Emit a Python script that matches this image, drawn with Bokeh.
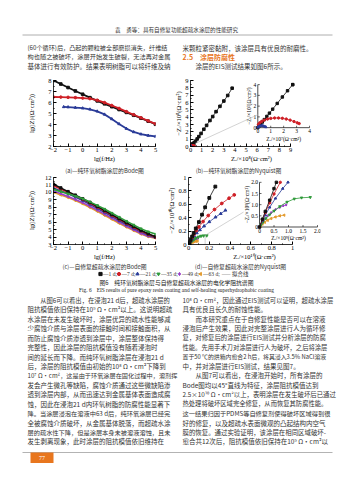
import math
from bokeh.plotting import figure
from bokeh.layouts import column, row
from bokeh.models import Range1d, SingleIntervalTicker, FixedTicker
from bokeh.core.properties import value
from bokeh.embed import file_html
from bokeh.resources import INLINE

# ---------------- data ----------------
day_labels = ["1 d", "7 d", "21 d", "35 d", "49 d", "63 d"]

lgf = [-2.0, -1.5, -1.0, -0.5, 0.0, 0.5, 1.0, 1.5, 2.0, 2.5, 3.0, 3.5, 4.0, 4.5, 5.0]

# (a) pure epoxy coating, Bode, lg|Z|
a_1d = [8.00, 7.68, 7.36, 7.05, 6.75, 6.44, 6.15, 5.88, 5.62, 5.36, 5.10, 4.84, 4.57, 4.30, 4.02]
a_7d = [6.50, 6.49, 6.47, 6.44, 6.40, 6.35, 6.21, 5.99, 5.73, 5.46, 5.17, 4.89, 4.61, 4.33, 4.06]
a_21d_f = [-1.3, -1.0, -0.5, 0.0, 0.5, 1.0, 1.5, 2.0, 2.5, 3.0, 3.5, 4.0, 4.5, 5.0]
a_21d = [5.60, 5.58, 5.54, 5.48, 5.38, 5.20, 4.92, 4.50, 4.05, 3.63, 3.32, 3.12, 3.00, 2.92]

# (b) pure epoxy coating, Nyquist, values in 10^7 ohm cm2
b_1d_x = [0.0, 0.1, 0.2, 0.35, 0.5, 0.7, 0.9, 1.15, 1.5, 1.9, 2.3, 2.7, 3.3, 4.5, 6.0, 7.5, 9.5, 12.0, 14.5, 17.5, 20.0, 23.0, 26.5, 30.0, 33.5, 37.5]
b_1d_y = [0.0, 0.15, 0.3, 0.52, 0.75, 1.05, 1.35, 1.72, 2.25, 2.85, 3.43, 4.0, 5.0, 7.2, 10.3, 13.5, 17.8, 23.5, 28.8, 35.5, 40.8, 47.5, 54.8, 62.0, 69.6, 79.5]
b_7d_x = [0.05, 0.15, 0.3, 0.5, 0.75, 1.0, 1.3, 1.6, 1.9, 2.2, 2.5, 2.8, 3.05, 3.2]
b_7d_y = [0.30, 0.45, 0.58, 0.70, 0.80, 0.86, 0.90, 0.90, 0.87, 0.80, 0.70, 0.57, 0.45, 0.38]
b_21d_x = [0.02, 0.08, 0.15, 0.25, 0.35, 0.45, 0.55, 0.62]
b_21d_y = [0.04, 0.10, 0.15, 0.18, 0.18, 0.15, 0.10, 0.06]

# (c) self-healing superhydrophobic coating, Bode, lg|Z|
c_1d = [11.10, 10.60, 10.10, 9.63, 9.15, 8.65, 8.12, 7.58, 7.03, 6.48, 5.93, 5.42, 4.92, 4.45, 4.05]
c_7d = [10.90, 10.45, 10.00, 9.55, 9.06, 8.56, 8.03, 7.48, 6.93, 6.38, 5.83, 5.32, 4.82, 4.36, 3.96]
c_21d = [10.60, 10.20, 9.80, 9.36, 8.90, 8.40, 7.87, 7.33, 6.78, 6.23, 5.68, 5.17, 4.70, 4.27, 3.90]
c_35d = [10.40, 10.10, 9.80, 9.50, 9.15, 8.72, 8.25, 7.76, 7.22, 6.68, 6.14, 5.63, 5.13, 4.72, 4.40]
c_49d = [10.20, 9.82, 9.45, 9.05, 8.62, 8.13, 7.62, 7.08, 6.54, 6.00, 5.47, 4.97, 4.50, 4.12, 3.95]
c_63d = [10.00, 9.65, 9.30, 8.90, 8.46, 7.97, 7.46, 6.92, 6.40, 5.86, 5.35, 4.86, 4.40, 4.05, 3.85]

# (d) self-healing superhydrophobic coating, Nyquist, values in 10^9 ohm cm2
d_1d_x = [0.0, 0.1, 0.2, 0.35, 0.5, 0.7, 1.0, 1.3, 1.6, 2.0, 2.58]
d_1d_y = [0.0, 0.35, 0.70, 1.20, 1.72, 2.40, 3.35, 4.45, 5.55, 6.95, 8.64]
d_7d_x = [0.0, 0.1, 0.2, 0.35, 0.5, 0.75, 1.0, 1.4, 1.9, 2.5, 3.2, 3.9, 4.4]
d_7d_y = [0.0, 0.33, 0.65, 1.08, 1.48, 2.08, 2.62, 3.42, 4.32, 5.22, 6.12, 6.90, 7.40]
d_21d_x = [0.0, 0.1, 0.2, 0.35, 0.55, 0.8, 1.1, 1.5, 2.0, 2.6, 3.1, 3.55]
d_21d_y = [0.0, 0.28, 0.53, 0.88, 1.28, 1.72, 2.18, 2.74, 3.38, 4.08, 4.60, 5.10]
d_35d_x = [0.0, 0.05, 0.12, 0.22, 0.35, 0.5, 0.7, 0.95, 1.2, 1.45, 1.75]
d_35d_y = [0.0, 0.10, 0.22, 0.38, 0.55, 0.72, 0.92, 1.12, 1.26, 1.31, 1.33]
d_49d_x = [0.0, 0.04, 0.1, 0.18, 0.28, 0.4, 0.55, 0.7, 0.82, 0.92]
d_49d_y = [0.0, 0.10, 0.22, 0.36, 0.50, 0.64, 0.78, 0.88, 0.95, 0.99]
d_63d_x = [0.0, 0.04, 0.1, 0.18, 0.28, 0.4, 0.55, 0.7, 0.85]
d_63d_y = [0.0, 0.06, 0.13, 0.21, 0.30, 0.38, 0.45, 0.50, 0.53]

# ---------------- text ----------------
header_text = "袁　勇等：具有自修复功能超疏水涂层的性能研究"
top_left = [
    "(60个循环)后，凸起的颗粒被全部磨损消失，纤维结",
    "构也随之被破坏，涂层开始发生破裂，无法再对金属",
    "基体进行有效防护。结果表明树脂可以将纤维及纳",
]
top_right = [
    "米颗粒紧密黏附，该涂层具有优良的耐磨性。",
    "2.5　涂层防腐性",
    "　　涂层的EIS测试结果如图6所示。",
]
cap_a = "(a)—纯环氧树脂涂层的Bode图"
cap_b = "(b)—纯环氧树脂涂层的Nyquist图"
cap_c = "(c)—自修复超疏水涂层的Bode图"
cap_d = "(d)—自修复超疏水涂层的Nyquist图"
fit_label = "—— 拟合线"
fig_cap_cn = "图6　纯环氧树脂涂层与自修复超疏水涂层的电化学阻抗谱图"
fig_cap_en = "Fig. 6　EIS results of pure epoxy resin coating and self-healing superhydrophobic coating"
body_left = [
    "　　从图6可以看出，在浸泡21 d后，超疏水涂层的",
    "阻抗模值依旧保持在10⁹ Ω·cm²以上。这说明超疏",
    "水涂层在未发生破坏时，涂层优异的疏水性能够减",
    "少腐蚀介质与涂层表面的接触时间和接触面积，从",
    "而防止腐蚀介质渗透到涂层中，涂层整体保持得",
    "完整性，因此涂层的阻抗模值没有随着浸泡时",
    "间的延长而下降。而纯环氧树脂涂层在浸泡21 d",
    "后，涂层的阻抗模值由初始的10⁸ Ω·cm²下降到",
    "10⁷ Ω·cm²，这是由于环氧涂层在固化过程中，溶剂挥",
    "发会产生微孔等缺陷，腐蚀介质通过这些微缺陷渗",
    "透到涂层内部，从而迅速达到金属基体表面造成腐",
    "蚀，因此在浸泡21 d内环氧树脂的防腐性能显著下",
    "降。当涂层浸泡在溶液中63 d后，纯环氧涂层已经完",
    "全被腐蚀介质破坏，从金属基体脱落，而超疏水涂",
    "层的疏水性下降，但是涂层本身未被溶液溶蚀，且未",
    "发生剥离现象，此时涂层的阻抗模值依旧维持在",
]
body_right = [
    "10⁸ Ω·cm²，因此通过EIS测试可以证明，超疏水涂层",
    "具有优良且长久的耐蚀性能。",
    "　　而本研究重点在于自修复性能是否可以在溶液",
    "浸泡后产生效果，因此对完整涂层进行人为循环修",
    "复，对修复后的涂层进行EIS测试并分析涂层的防腐",
    "性能。先用手术刀对涂层进行人为破坏，之后将涂层",
    "置于50 ℃的烘箱内愈合2 h后，将其浸入3.5% NaCl溶液",
    "中，并对涂层进行EIS测试，结果见图7。",
    "　　从图7可以看出，在浸泡开始时，所有涂层的",
    "Bode图均以45°直线为特征，涂层阻抗模值达到",
    "2.5×10¹⁰ Ω·cm²以上，表明涂层在发生破坏后已通过",
    "热处理将破坏区域完全修复，从而恢复其防腐性能。",
    "这一结果归因于PDMS等自修复剂使得破坏区域得到很",
    "好的修复，以及超疏水表面微观的凸起结构内空气",
    "膜的恢复。通过实验证明，该涂层在相同区域破坏-",
    "愈合共12次后，阻抗模值依旧保持在10⁹ Ω·cm²以",
]
page_number = "77"

# ---------------- styles ----------------
BLACK, RED, BLUE = "#111111", "#cf2027", "#2a3b98"
GREEN, PURPLE, ORANGE = "#2f9a3a", "#9a3cc8", "#e39a2d"
COLORS = [BLACK, RED, BLUE, GREEN, PURPLE, ORANGE]
MARKERS = ["square", "circle", "triangle", "inverted_triangle", "diamond", "triangle"]
ANGLES = [0, 0, 0, 0, 0, math.pi / 2]
SER = "Liberation Serif"
CJK = "Noto Sans CJK SC"
TXT = "#333333"
ACCENT = "#e8761e"


def text_fig(w, h):
    p = figure(width=w, height=h, x_range=Range1d(0, w), y_range=Range1d(h, 0),
               x_axis_type=None, y_axis_type=None, toolbar_location=None,
               output_backend="svg", min_border=0)
    p.outline_line_color = None
    return p


def put(p, x, y, s, size="6.5px", font=CJK, color=TXT, align="left", style="normal"):
    p.text(x=[x], y=[y], text=[s], text_font=value(font), text_font_size=size,
           text_color=color, text_align=align, text_baseline="middle",
           text_font_style=style)


def em_width(s):
    w = 0.0
    for ch in s:
        o = ord(ch)
        if ch == " ":
            w += 0.3
        elif ch in "·°⁰¹²³⁴⁵⁶⁷⁸⁹":
            w += 0.35
        elif o < 0x2000 or ch in "Ω×−":
            w += 0.56
        else:
            w += 1.0
    return w


def put_line(p, x, y, s, col_w, max_px=6.5):
    size = min(max_px, col_w / em_width(s))
    put(p, x, y, s, size="%.2fpx" % size)


def style_axes(p, ylab_standoff):
    p.grid.visible = False
    p.outline_line_color = None
    for ax in list(p.xaxis) + list(p.yaxis):
        ax.axis_line_width = 0.8
        ax.axis_line_color = "black"
        ax.major_tick_in = 3
        ax.major_tick_out = 0
        ax.minor_tick_in = 1
        ax.minor_tick_out = 0
        ax.major_label_text_font = SER
        ax.major_label_text_font_size = "6.5px"
        ax.major_label_text_color = "black"
        ax.axis_label_text_font = SER
        ax.axis_label_text_font_size = "6.5px"
        ax.axis_label_text_font_style = "normal"
        ax.axis_label_text_color = "black"
        ax.major_label_standoff = 1
    p.xaxis.axis_label_standoff = 0
    p.yaxis.axis_label_standoff = ylab_standoff
    p.yaxis.major_label_standoff = 2


def series(p, xs, ys, color, marker, angle, size=2.6, lw=1.3, **kw):
    p.line(xs, ys, line_color=color, line_width=lw, **kw)
    p.scatter(xs, ys, marker=marker, size=size, fill_color=color, line_color=color,
              angle=angle, **kw)


def clip_box(xs, ys, xmax, ymax):
    ox, oy = [], []
    for i in range(len(xs)):
        x, y = xs[i], ys[i]
        if x <= xmax and y <= ymax:
            ox.append(x)
            oy.append(y)
        else:
            if i > 0:
                x0, y0 = xs[i - 1], ys[i - 1]
                tx = (xmax - x0) / (x - x0) if x > xmax else 1.0
                ty = (ymax - y0) / (y - y0) if y > ymax else 1.0
                t = min(tx, ty)
                ox.append(x0 + t * (x - x0))
                oy.append(y0 + t * (y - y0))
            break
    return ox, oy


def add_inset(p, frame_w, frame_h, off_x, off_y, sx, sy, vmax, ticks, labels,
              xlab, ylab, ylab_off):
    xs0 = -off_x / sx
    ys0 = -off_y / sy
    p.extra_x_ranges = {"ix": Range1d(xs0, xs0 + frame_w / sx)}
    p.extra_y_ranges = {"iy": Range1d(ys0, ys0 + frame_h / sy)}
    kw = dict(x_range_name="ix", y_range_name="iy")
    n = len(ticks)
    p.segment(x0=[0, 0], y0=[0, 0], x1=[vmax, 0], y1=[0, vmax],
              line_color="black", line_width=0.7, **kw)
    p.segment(x0=ticks, y0=[0] * n, x1=ticks, y1=[2.0 / sy] * n,
              line_color="black", line_width=0.6, **kw)
    p.segment(x0=[0] * n, y0=ticks, x1=[2.0 / sx] * n, y1=ticks,
              line_color="black", line_width=0.6, **kw)
    p.text(x=ticks, y=[0] * n, text=labels, y_offset=1.5, text_align="center",
           text_baseline="top", text_font=value(SER), text_font_size="5.5px",
           text_color="black", **kw)
    p.text(x=[0] * n, y=ticks, text=labels, x_offset=-1.5, text_align="right",
           text_baseline="middle", text_font=value(SER), text_font_size="5.5px",
           text_color="black", **kw)
    p.text(x=[vmax / 2], y=[0], text=[xlab], y_offset=8, text_align="center",
           text_baseline="top", text_font=value(SER), text_font_size="5.5px",
           text_color="black", **kw)
    p.text(x=[0], y=[vmax / 2], text=[ylab], x_offset=-ylab_off, angle=math.pi / 2,
           text_align="center", text_baseline="bottom", text_font=value(SER),
           text_font_size="5.5px", text_color="black", **kw)

    def to_main(xi, yi, xr, yr):
        fx = (xi - xs0) / (frame_w / sx)
        fy = (yi - ys0) / (frame_h / sy)
        return xr[0] + fx * (xr[1] - xr[0]), yr[0] + fy * (yr[1] - yr[0])
    return kw, to_main


# ---------------- T1: header + text above figure ----------------
t1 = text_fig(353, 74)
put(t1, 176, 29, header_text, size="5.6px", color="#333333", align="center")
t1.segment(x0=[22], y0=[34.5], x1=[332], y1=[34.5], line_color="#9a9a9a", line_width=0.8)
for i, s in enumerate(top_left):
    put_line(t1, 27, 47 + 9.4 * i, s, 143)
for i, s in enumerate(top_right):
    if i == 1:
        put(t1, 182, 47 + 9.4 * i, s, size="7px", color=ACCENT, style="bold")
    else:
        put_line(t1, 182, 47 + 9.4 * i, s, 145)

# ---------------- Row A: panels (a) and (b) ----------------
pa = figure(width=165, height=90, x_range=Range1d(-2, 5), y_range=Range1d(2, 8),
            toolbar_location=None, output_backend="svg",
            min_border_left=53, min_border_right=10, min_border_top=6, min_border_bottom=15)
style_axes(pa, 10)
pa.xaxis.ticker = SingleIntervalTicker(interval=1, num_minor_ticks=2)
pa.yaxis.ticker = SingleIntervalTicker(interval=1, num_minor_ticks=2)
pa.xaxis.major_label_overrides = {-2: "−2", -1: "−1"}
pa.xaxis.axis_label = "lg(f/Hz)"
pa.yaxis.axis_label = "lg(|Z|/(Ω·cm²))"
series(pa, lgf, a_1d, BLACK, MARKERS[0], ANGLES[0], lw=1.8)
series(pa, lgf, a_7d, RED, MARKERS[1], ANGLES[1], lw=1.8)
series(pa, a_21d_f, a_21d, BLUE, MARKERS[2], ANGLES[2], lw=1.8)

B_FW, B_FH = 122, 69
b_xr = (0, B_FW / (100 / 9))
b_yr = (0, 9)
pb = figure(width=188, height=90, x_range=Range1d(*b_xr), y_range=Range1d(*b_yr),
            toolbar_location=None, output_backend="svg",
            min_border_left=25, min_border_right=41, min_border_top=5, min_border_bottom=16)
style_axes(pb, 0)
pb.xaxis.bounds = (0, 9)
pb.xaxis.ticker = SingleIntervalTicker(interval=1, num_minor_ticks=2)
pb.yaxis.ticker = SingleIntervalTicker(interval=1, num_minor_ticks=2)
pb.xaxis.axis_label = "Zᵣ/×10⁸(Ω·cm²)"
pb.yaxis.axis_label = "−Zᵢ/×10⁸(Ω·cm²)"
b_sets = [(b_1d_x, b_1d_y), (b_7d_x, b_7d_y), (b_21d_x, b_21d_y)]
for k, (xs, ys) in enumerate(b_sets):
    series(pb, [v / 10 for v in xs], [v / 10 for v in ys], COLORS[k], MARKERS[k], ANGLES[k],
           size=2.6, lw=0.8)
b_kw, b_map = add_inset(pb, B_FW, B_FH, 67.3, 19.7, 12.93, 11.25, 4,
                        [0, 1, 2, 3, 4], ["0", "1", "2", "3", "4"],
                        "Zᵣ/×10⁷(Ω·cm²)", "−Zᵢ/×10⁷(Ω·cm²)", 6)
for k, (xs, ys) in enumerate(b_sets):
    cx, cy = clip_box(xs, ys, 4, 4)
    series(pb, cx, cy, COLORS[k], MARKERS[k], ANGLES[k], size=2.4, lw=0.8, **b_kw)
gx, gy = b_map(0, 1.2, b_xr, b_yr)
pb.line([0.4, gx], [0.4, gy], line_color="#b5b5b5", line_width=0.6)

row_a = row(pa, pb)

# ---------------- T2: captions (a) (b) ----------------
t2 = text_fig(353, 11)
put(t2, 104, 5, cap_a, size="5.8px", align="center")
put(t2, 238, 5, cap_b, size="5.8px", align="center")

# ---------------- Row C: panels (c) and (d) ----------------
C_FH = 70
c_top = 12 + 1.0 / (69 / 9)
pc = figure(width=165, height=87, x_range=Range1d(-2, 5), y_range=Range1d(3, c_top),
            toolbar_location=None, output_backend="svg",
            min_border_left=53, min_border_right=10, min_border_top=1, min_border_bottom=16)
style_axes(pc, 7)
pc.yaxis.bounds = (3, 12)
pc.xaxis.ticker = SingleIntervalTicker(interval=1, num_minor_ticks=2)
pc.yaxis.ticker = SingleIntervalTicker(interval=1, num_minor_ticks=2)
pc.xaxis.major_label_overrides = {-2: "−2", -1: "−1"}
pc.xaxis.axis_label = "lg(f/Hz)"
pc.yaxis.axis_label = "lg(|Z|/(Ω·cm²))"
c_sets = [c_63d, c_49d, c_21d, c_7d, c_1d, c_35d]
c_idx = [5, 4, 2, 1, 0, 3]
for vals, k in zip(c_sets, c_idx):
    series(pc, lgf, vals, COLORS[k], MARKERS[k], ANGLES[k], size=2.4, lw=1.6)

D_FW, D_FH = 132, 70
d_xr = (0, D_FW / 104)
d_yr = (0, 1.0 + 1.0 / 69)
pd = figure(width=188, height=87, x_range=Range1d(*d_xr), y_range=Range1d(*d_yr),
            toolbar_location=None, output_backend="svg",
            min_border_left=23, min_border_right=33, min_border_top=1, min_border_bottom=16)
style_axes(pd, 0)
pd.xaxis.bounds = (0, 1.0)
pd.yaxis.bounds = (0, 1.0)
tk = [0, 0.2, 0.4, 0.6, 0.8, 1.0]
mtk = [0.1, 0.3, 0.5, 0.7, 0.9]
pd.xaxis.ticker = FixedTicker(ticks=tk, minor_ticks=mtk)
pd.yaxis.ticker = FixedTicker(ticks=tk, minor_ticks=mtk)
pd.xaxis.major_label_overrides = {0: "0"}
pd.yaxis.major_label_overrides = {0: "0"}
pd.xaxis.axis_label = "Zᵣ/×10¹⁰(Ω·cm²)"
pd.yaxis.axis_label = "−Zᵢ/×10¹⁰(Ω·cm²)"
d_sets = [(d_63d_x, d_63d_y), (d_49d_x, d_49d_y), (d_35d_x, d_35d_y),
          (d_21d_x, d_21d_y), (d_7d_x, d_7d_y), (d_1d_x, d_1d_y)]
d_idx = [5, 4, 3, 2, 1, 0]
for (xs, ys), k in zip(d_sets, d_idx):
    series(pd, [v / 10 for v in xs], [v / 10 for v in ys], COLORS[k], MARKERS[k], ANGLES[k],
           size=2.8, lw=0.8)
d_kw, d_map = add_inset(pd, D_FW, D_FH, 71, 18, 29, 23, 2.0,
                        [0, 0.5, 1.0, 1.5, 2.0], ["0", "0.5", "1.0", "1.5", "2.0"],
                        "Zᵣ/×10⁹(Ω·cm²)", "−Zᵢ/×10⁹(Ω·cm²)", 10)
for (xs, ys), k in zip(d_sets, d_idx):
    cx, cy = clip_box(xs, ys, 2.0, 2.0)
    series(pd, cx, cy, COLORS[k], MARKERS[k], ANGLES[k], size=2.4, lw=0.8, **d_kw)
gx, gy = d_map(-0.55, 0.67, d_xr, d_yr)
pd.line([0.16, 0.16, gx], [0.0, 0.136, gy], line_color="#b5b5b5", line_width=0.6)

row_c = row(pc, pd)

# ---------------- T3: captions, legend, figure caption, body text ----------------
T3_TOP = 262
t3 = text_fig(353, 480 - T3_TOP)
put(t3, 104, 265.5 - T3_TOP, cap_c, size="5.8px", align="center")
put(t3, 240, 265.5 - T3_TOP, cap_d, size="5.8px", align="center")

ly = 273.5 - T3_TOP
lx = 100.0
for lab, col, mk, ang in zip(day_labels, COLORS, MARKERS, ANGLES):
    t3.scatter([lx], [ly], marker=mk, size=3.2, fill_color=col, line_color=col, angle=ang)
    t3.text(x=[lx + 2.5], y=[ly], text=["—" + lab + ";"], text_font=value(SER),
            text_font_size="5.5px", text_color=TXT, text_baseline="middle")
    lx += 18.5 if len(lab) == 3 else 21.0
put(t3, lx, ly, fit_label, size="5.5px")

put(t3, 176, 281.5 - T3_TOP, fig_cap_cn, size="5.8px", align="center", color="#222222")
put(t3, 176, 289.5 - T3_TOP, fig_cap_en, size="5.4px", font=SER, align="center", color="#222222")

for i, s in enumerate(body_left):
    put_line(t3, 27, 299.5 + 9.43 * i - T3_TOP, s, 143)
for i, s in enumerate(body_right):
    put_line(t3, 182, 299.5 + 9.43 * i - T3_TOP, s, 145)

t3.segment(x0=[22], y0=[452 - T3_TOP], x1=[332], y1=[452 - T3_TOP],
           line_color="#a0a0a0", line_width=0.8)
t3.quad(left=[30], right=[53], top=[452 - T3_TOP], bottom=[462.5 - T3_TOP],
        fill_color=ACCENT, line_color=None)
put(t3, 41.5, 457.5 - T3_TOP, page_number, size="6px", font=SER, color="white", align="center")

layout = column(t1, row_a, t2, row_c, t3)
open("out.html", "w").write(file_html(layout, INLINE))
